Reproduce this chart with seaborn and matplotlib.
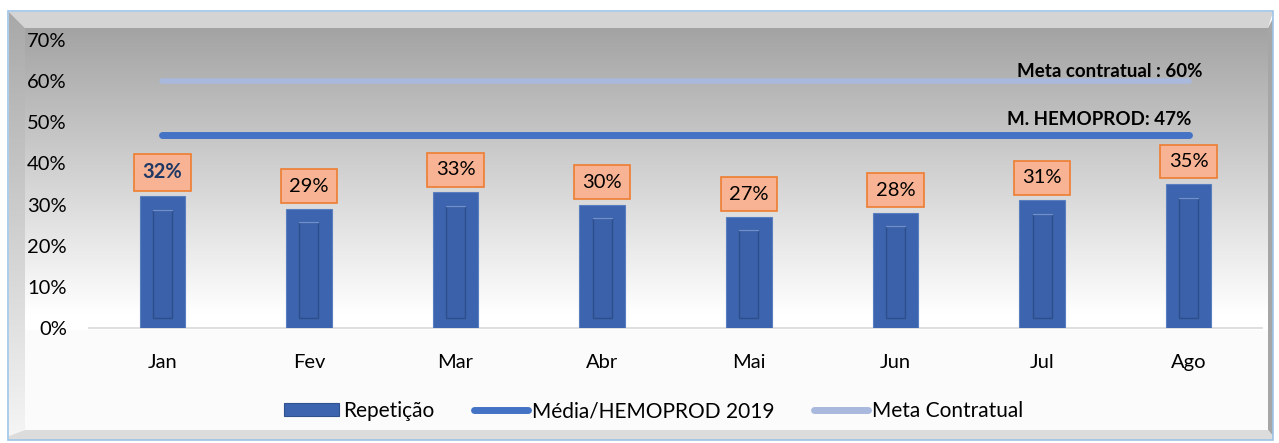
import numpy as np
import pandas as pd
import matplotlib
matplotlib.use("Agg")
import matplotlib.pyplot as plt
from matplotlib.patches import Rectangle, Polygon
from matplotlib.lines import Line2D
import seaborn as sns

# ---- data ----
months = ["Jan", "Fev", "Mar", "Abr", "Mai", "Jun", "Jul", "Ago"]
repeticao = [0.32, 0.29, 0.33, 0.30, 0.27, 0.28, 0.31, 0.35]
media_hemoprod = [0.47] * 8
meta_contratual = [0.60] * 8
y_ticks = [0.0, 0.1, 0.2, 0.3, 0.4, 0.5, 0.6, 0.7]
y_tick_labels = ["0%", "10%", "20%", "30%", "40%", "50%", "60%", "70%"]
legend_labels = ["Repetição", "Média/HEMOPROD 2019", "Meta Contratual"]
meta_text = "Meta contratual : 60%"
media_text = "M. HEMOPROD: 47%"

sns.set_theme(style="white")
plt.rcParams["font.family"] = ["Lato", "DejaVu Sans"]
plt.rcParams["text.color"] = "black"
plt.rcParams["xtick.color"] = "black"
plt.rcParams["ytick.color"] = "black"

W, H = 1279, 443
fig = plt.figure(figsize=(W / 100, H / 100), dpi=100)

# ---- background frame (3D-ish wall) ----
bg = fig.add_axes([0, 0, 1, 1], zorder=-5)
bg.set_xlim(0, W)
bg.set_ylim(H, 0)
bg.axis("off")
bg.add_patch(Rectangle((0, 0), W, H, facecolor="white", edgecolor="none"))
grad = np.linspace(0, 1, 256)[:, None]
cols = np.clip(0.64 + 0.38 * grad, 0, 1)
img = np.dstack([cols, cols, cols])
bg.imshow(img, extent=(25, 1268, 330, 28), aspect="auto", zorder=1)
bg.add_patch(Rectangle((25, 330), 1243, 105, facecolor="#FBFBFB", edgecolor="none", zorder=1))
bg.add_patch(Polygon([(9, 12), (1273, 12), (1268, 28), (25, 28)], closed=True,
                     facecolor="#D4D4D4", edgecolor="none", zorder=2))
lw_img = np.dstack([np.clip(0.66 + 0.30 * grad, 0, 1)] * 3)
im = bg.imshow(lw_img, extent=(9, 25, 436, 12), aspect="auto", zorder=2)
im.set_clip_path(Polygon([(9, 12), (25, 28), (25, 430), (9, 436)], closed=True,
                         transform=bg.transData))
bg.add_patch(Polygon([(1268, 28), (1273, 18), (1273, 436), (1268, 430)], closed=True,
                     facecolor="#A6A6A6", edgecolor="none", zorder=2))
bg.add_patch(Polygon([(9, 436), (25, 430), (1268, 430), (1273, 436), (1273, 440), (9, 440)],
                     closed=True, facecolor="#DCDCDC", edgecolor="none", zorder=2))
bg.add_patch(Rectangle((8, 11), 1265, 429, facecolor="none", edgecolor="#9DC3E6", lw=1.2, zorder=3))

# ---- main axes ----
ax = fig.add_axes([89 / W, 1 - 328 / H, (1262 - 89) / W, (328 - 40) / H])
ax.patch.set_alpha(0)

df = pd.DataFrame({"month": months, "rep": repeticao,
                   "media": media_hemoprod, "meta": meta_contratual})

bar_color = "#3D64AE"
sns.barplot(data=df, x="month", y="rep", color=bar_color, width=0.31,
            saturation=1, edgecolor="#5A7FC0", linewidth=0.8, ax=ax, zorder=3)

for p in list(ax.patches):
    x0, w = p.get_x(), p.get_width()
    h = p.get_height()
    inner = Rectangle((x0 + w * 0.29, 0.025), w * 0.42, h - 0.058,
                      facecolor="#3B61AA", edgecolor="#2D4E8A", lw=1.0, zorder=4)
    ax.add_patch(inner)
    ax.plot([x0 + w * 0.29, x0 + w * 0.71], [h - 0.033, h - 0.033],
            color="#6E8FCB", lw=1.0, zorder=5)

sns.lineplot(data=df, x="month", y="meta", color="#A9B8DD", lw=4,
             solid_capstyle="round", ax=ax, zorder=2, legend=False)
sns.lineplot(data=df, x="month", y="media", color="#4472C4", lw=5,
             solid_capstyle="round", ax=ax, zorder=2, legend=False)

for i, v in enumerate(repeticao):
    first = i == 0
    ax.annotate(f"{v*100:.0f}%", (i, v), xytext=(0, 14), textcoords="offset pixels",
                ha="center", va="bottom", fontsize=14.5,
                fontweight="bold" if first else "normal",
                color="#203864" if first else "black",
                bbox=dict(boxstyle="square,pad=0.42", facecolor="#F7B393",
                          edgecolor="#ED7D31", lw=1.2),
                zorder=6)

ax.annotate(meta_text, (len(months) - 1, meta_contratual[-1]), xytext=(14, 10),
            textcoords="offset pixels", ha="right", va="center",
            fontsize=13.5, fontweight="bold", color="black", zorder=6)
ax.annotate(media_text, (len(months) - 1, media_hemoprod[-1]), xytext=(3, 15),
            textcoords="offset pixels", ha="right", va="center",
            fontsize=13.5, fontweight="bold", color="black", zorder=6)

ax.set_ylim(0, 0.7)
ax.set_xlim(-0.5, len(months) - 0.5)
ax.set_yticks(y_ticks)
ax.set_yticklabels(y_tick_labels, fontsize=14.5)
ax.tick_params(axis="y", length=0, pad=16)
ax.tick_params(axis="x", length=0, pad=19, labelsize=14.5)
ax.set_xlabel("")
ax.set_ylabel("")
for s in ["top", "right", "left"]:
    ax.spines[s].set_visible(False)
ax.spines["bottom"].set_color("#D9D9D9")
ax.spines["bottom"].set_linewidth(1.2)
ax.grid(False)

handles = [
    Rectangle((0, 0), 1, 1, facecolor=bar_color, edgecolor="#2F528F", lw=0.8),
    Line2D([0], [0], color="#4472C4", lw=5, solid_capstyle="round"),
    Line2D([0], [0], color="#A9B8DD", lw=5, solid_capstyle="round"),
]
fig.legend(handles, legend_labels, loc="center", bbox_to_anchor=(654 / W, 1 - 411 / H),
           ncol=3, frameon=False, fontsize=15, handlelength=2.6, handleheight=0.6,
           handletextpad=0.2, columnspacing=1.9)

fig.savefig("out.png", dpi=100)
